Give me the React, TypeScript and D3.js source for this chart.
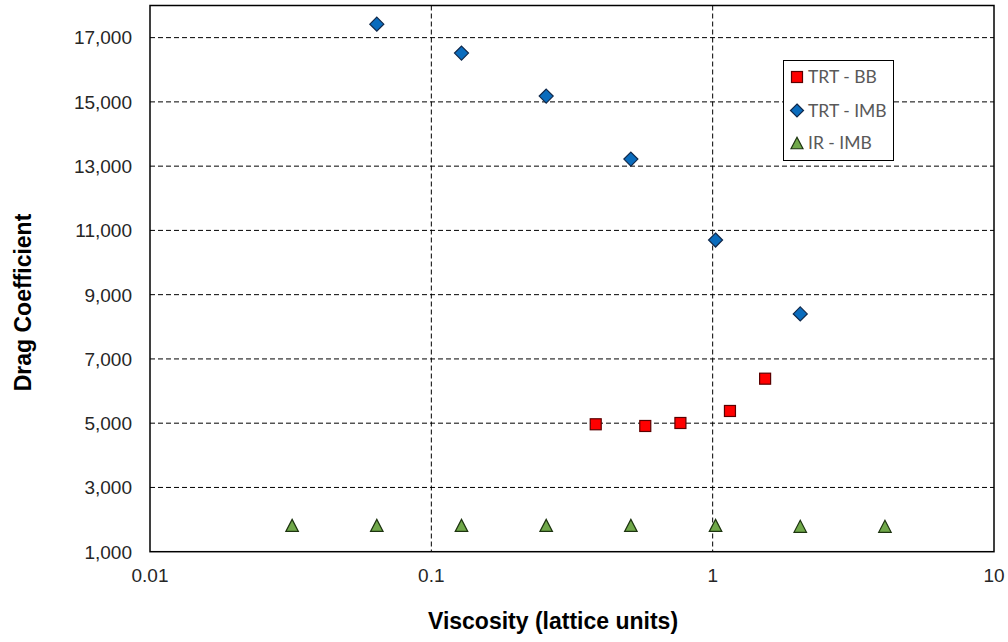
import React from "react";
import * as d3 from "d3";

const yTicks = [1000, 3000, 5000, 7000, 9000, 11000, 13000, 15000, 17000];
const xTicks = [0.01, 0.1, 1, 10];
const xTickLabels = ["0.01", "0.1", "1", "10"];

const trtBbX = [0.384, 0.576, 0.768, 1.152, 1.536];
const trtBbY = [4966, 4913, 5006, 5380, 6385];

const trtImbX = [0.064, 0.128, 0.256, 0.512, 1.024, 2.048];
const trtImbY = [17420, 16520, 15180, 13220, 10700, 8400];

const irImbX = [0.032, 0.064, 0.128, 0.256, 0.512, 1.024, 2.048, 4.096];
const irImbY = [1820, 1820, 1820, 1820, 1820, 1820, 1790, 1790];

const seriesNames = ["TRT - BB", "TRT - IMB", "IR - IMB"];

const W = 1008, H = 642;
const M = { left: 150, right: 994, top: 5.5, bottom: 551.7 };

const RED = "#ff0000", RED_S = "#5a0000";
const BLUE = "#0a6cbd", BLUE_S = "#10284a";
const GREEN = "#70a84a", GREEN_S = "#1d3410";

function Square({ x, y, s = 11 }: { x: number; y: number; s?: number }) {
  return <rect x={x - s / 2} y={y - s / 2} width={s} height={s} fill={RED} stroke={RED_S} strokeWidth={1.2} />;
}
function Diamond({ x, y, r = 7 }: { x: number; y: number; r?: number }) {
  const p = `${x},${y - r} ${x + r},${y} ${x},${y + r} ${x - r},${y}`;
  return <polygon points={p} fill={BLUE} stroke={BLUE_S} strokeWidth={1.2} />;
}
function Tri({ x, y, w = 12.5, h = 12 }: { x: number; y: number; w?: number; h?: number }) {
  const p = `${x},${y - h / 2} ${x + w / 2},${y + h / 2} ${x - w / 2},${y + h / 2}`;
  return <polygon points={p} fill={GREEN} stroke={GREEN_S} strokeWidth={1.2} strokeLinejoin="miter" />;
}

export default function App() {
  const x = d3.scaleLog().domain([0.01, 10]).range([M.left, M.right]);
  const y = d3.scaleLinear().domain([1000, 18000]).range([M.bottom, M.top]);
  const fmt = d3.format(",");
  const font = "Arial, 'Liberation Sans', sans-serif";

  const legX = 783.5, legY = 60.5;
  const rows = [77, 110.5, 143];

  return (
    <svg width={W} height={H} style={{ position: "absolute", left: 0, top: 0, background: "#fff" }}>
      <rect x={0} y={0} width={W} height={H} fill="#fff" />
      {/* horizontal grid */}
      {yTicks.filter(t => t > 1000).map(t => (
        <line key={"gy" + t} x1={M.left} x2={M.right} y1={y(t)} y2={y(t)} stroke="#000" strokeWidth={1} strokeDasharray="5,3" />
      ))}
      {/* vertical grid */}
      {xTicks.filter(t => t > 0.01 && t < 10).map(t => (
        <line key={"gx" + t} x1={x(t)} x2={x(t)} y1={M.top} y2={M.bottom} stroke="#000" strokeWidth={1} strokeDasharray="5,3" />
      ))}
      {/* frame */}
      <rect x={M.left} y={M.top} width={M.right - M.left} height={M.bottom - M.top} fill="none" stroke="#000" strokeWidth={1.5} />

      {/* y tick labels */}
      {yTicks.map(t => (
        <text key={"ty" + t} x={132} y={y(t)} dy="0.36em" textAnchor="end" fontFamily={font} fontSize={19} fill="#262626">
          {fmt(t)}
        </text>
      ))}
      {/* x tick labels */}
      {xTicks.map((t, i) => (
        <text key={"tx" + t} x={x(t)} y={582} textAnchor="middle" fontFamily={font} fontSize={19} fill="#262626">
          {xTickLabels[i]}
        </text>
      ))}

      {/* axis titles */}
      <text x={553} y={629} textAnchor="middle" fontFamily={font} fontSize={23} fontWeight="bold" fill="#000">
        Viscosity (lattice units)
      </text>
      <text transform={`translate(31,${(213 + 392) / 2}) rotate(-90)`} textAnchor="middle" fontFamily={font} fontSize={23} fontWeight="bold" fill="#000">
        Drag Coefficient
      </text>

      {/* series */}
      {irImbX.map((v, i) => <Tri key={"g" + i} x={x(v)} y={y(irImbY[i])} />)}
      {trtBbX.map((v, i) => <Square key={"r" + i} x={x(v)} y={y(trtBbY[i])} />)}
      {trtImbX.map((v, i) => <Diamond key={"b" + i} x={x(v)} y={y(trtImbY[i])} />)}

      {/* legend */}
      <rect x={legX} y={legY} width={110} height={100} fill="#fff" stroke="#000" strokeWidth={1} />
      <Square x={797} y={rows[0]} s={11} />
      <Diamond x={797} y={rows[1]} r={6.5} />
      <Tri x={797} y={rows[2]} w={12} h={11.5} />
      {seriesNames.map((n, i) => (
        <text key={n} x={808} y={rows[i]} dy="0.36em" fontFamily="Lato, 'Open Sans', sans-serif" fontSize={17.5} fill="#595959">
          {n}
        </text>
      ))}
    </svg>
  );
}
